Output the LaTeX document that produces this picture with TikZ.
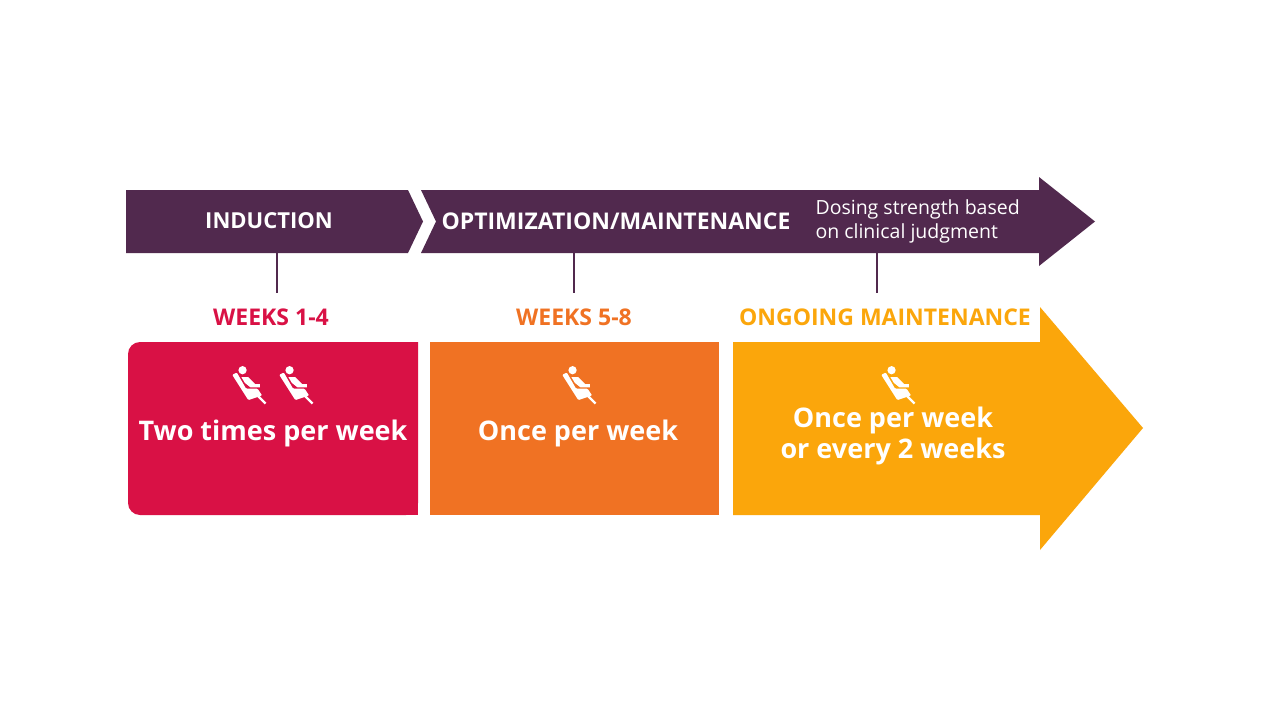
\documentclass[tikz,border=0pt]{standalone}
\usepackage{fontspec}
\setmainfont{Open Sans}
\begin{document}
\begin{tikzpicture}[x=1pt,y=-1pt,
  band/.style={fill=plum},
  hdr/.style={text=white,font=\fontsize{22}{24}\selectfont\bfseries,anchor=center},
  wk/.style={font=\fontsize{23}{26}\selectfont\bfseries,anchor=center},
  big/.style={text=white,font=\fontsize{27}{31}\selectfont\bfseries,align=center,anchor=center},
  tick/.style={draw=plum,line width=1.3pt},
  chair/.pic={
    \begin{scope}[scale=1.15]
    \fill[white] (-3,-12) circle (3.6);
    \fill[white,rounded corners=1pt] (-12,-8) -- (-8,-10) -- (0,4) -- (10,4) -- (14,10) -- (2,14) -- cycle;
    \fill[white] (-4,-6) -- (2,-6) -- (8,0) -- (12,0) -- (12,3) -- (4,3) -- (-1,-1) -- cycle;
    \draw[white,line width=2.2pt] (10,10) -- (17,17);
    \end{scope}
  }]
\definecolor{plum}{HTML}{51294E}
\definecolor{crim}{HTML}{D91145}
\definecolor{orng}{HTML}{F07223}
\definecolor{gold}{HTML}{FBA60B}
\useasboundingbox (0,0) rectangle (1270,720);
\fill[white] (0,0) rectangle (1270,720);
% top band
\path[band] (126,190) -- (408,190) -- (423,221.5) -- (408,253) -- (126,253) -- cycle;
\path[band] (421,190) -- (1039,190) -- (1039,177) -- (1095,221.5) -- (1039,266) -- (1039,253) -- (421,253) -- (436,221.5) -- cycle;
\node[hdr] (ind) at (269,221) {INDUCTION};
\node[hdr,font=\fontsize{23}{25}\selectfont\bfseries] (opt) at (616,221) {OPTIMIZATION/MAINTENANCE};
\node[text=white,font=\fontsize{19.5}{24}\selectfont,align=left,anchor=west] (dos) at (812,221) {Dosing strength based\\on clinical judgment};
\coordinate (t1a) at (277,253); \coordinate (t1b) at (277,293);
\coordinate (t2a) at (574,253); \coordinate (t2b) at (574,293);
\coordinate (t3a) at (877,253); \coordinate (t3b) at (877,293);
\draw[tick] (t1a) -- (t1b); \draw[tick] (t2a) -- (t2b); \draw[tick] (t3a) -- (t3b);
\node[wk,text=crim] (w1) at (271,317) {WEEKS 1-4};
\node[wk,text=orng] (w2) at (574,317) {WEEKS 5-8};
\node[wk,text=gold] (w3) at (885,317) {ONGOING MAINTENANCE};
% boxes
\fill[crim,rounded corners=12pt] (418,342) -- (128,342) -- (128,515) -- (418,515) [sharp corners] -- cycle;
\fill[crim] (300,342) rectangle (418,515);
\fill[orng] (430,342) rectangle (719,515);
\fill[gold] (733,342) -- (1040,342) -- (1040,307) -- (1143,428) -- (1040,550) -- (1040,515) -- (733,515) -- cycle;
\pic at (246,384) {chair};
\pic at (293,384) {chair};
\pic at (576,384) {chair};
\pic at (895,384) {chair};
\node[big] (b1) at (273,433) {Two times per week};
\node[big] (b2) at (578,433) {Once per week};
\node[big] (b3) at (893,436) {Once per week\\or every 2 weeks};
\end{tikzpicture}
\end{document}
